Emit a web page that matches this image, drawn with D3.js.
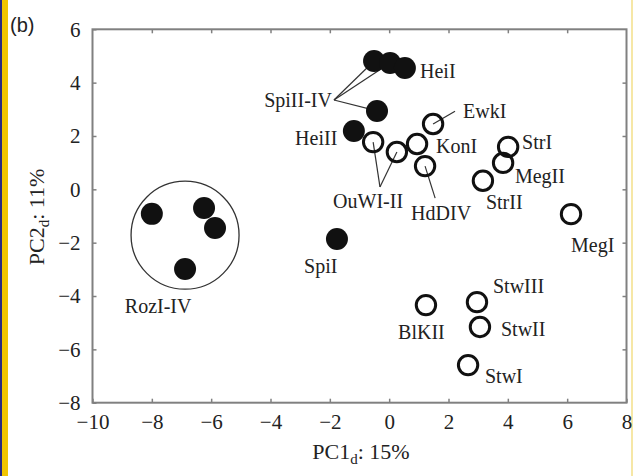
<!DOCTYPE html>
<html>
<head>
<meta charset="utf-8">
<script src="https://cdn.jsdelivr.net/npm/d3@7"></script>
<style>
  body { margin: 0; background: #fff; }
  svg { display: block; }
  text { font-family: "Liberation Serif", "Times New Roman", serif; fill: #222; }
</style>
</head>
<body>
<div id="chart"></div>
<script>
// sites (PC1, PC2) and whether the marker is filled
var names  = ["HeiIa", "HeiIb", "HeiI", "SpiIV", "HeiII", "SpiI", "Roz1", "Roz2", "Roz3", "Roz4",
              "OuWI", "OuWII", "KonI", "EwkI", "HdDIV", "StrI", "MegII", "StrII", "MegI",
              "BlKII", "StwIII", "StwII", "StwI"];
var pc1    = [-0.51, 0.03, 0.53, -0.41, -1.19, -1.76, -8.0, -6.24, -5.87, -6.88,
              -0.54, 0.26, 0.94, 1.48, 1.21, 4.01, 3.84, 3.16, 6.13,
              1.24, 2.96, 3.06, 2.66];
var pc2    = [4.81, 4.74, 4.55, 2.94, 2.19, -1.86, -0.92, -0.70, -1.45, -2.99,
              1.77, 1.40, 1.70, 2.45, 0.87, 1.59, 0.99, 0.32, -0.93,
              -4.34, -4.23, -5.16, -6.59];
var filled = [1, 1, 1, 1, 1, 1, 1, 1, 1, 1,
              0, 0, 0, 0, 0, 0, 0, 0, 0,
              0, 0, 0, 0];

var xTicks = [-10, -8, -6, -4, -2, 0, 2, 4, 6, 8];
var yTicks = [-8, -6, -4, -2, 0, 2, 4, 6];

// label text, anchor (data units), text-anchor, leader targets
var labels = [
  {t: "HeiI",     x: 1.04,  y: 4.17,  a: "start"},
  {t: "SpiII-IV", x: -1.93, y: 3.08,  a: "end",   lx: -1.86, ly: 3.35, to: ["HeiIa", "HeiIb", "SpiIV"]},
  {t: "HeiII",    x: -3.17, y: 1.66,  a: "start"},
  {t: "EwkI",     x: 2.49,  y: 2.67,  a: "start", lx: 2.22,  ly: 2.93, to: ["EwkI"]},
  {t: "KonI",     x: 1.58,  y: 1.36,  a: "start"},
  {t: "OuWI-II",  x: -1.89, y: -0.70, a: "start", lx: -0.31, ly: 0.09, to: ["OuWI", "OuWII"]},
  {t: "HdDIV",    x: 0.74,  y: -1.15, a: "start", lx: 1.55,  ly: -0.33, to: ["HdDIV"]},
  {t: "StrII",    x: 3.26,  y: -0.74, a: "start"},
  {t: "StrI",     x: 4.48,  y: 1.51,  a: "start"},
  {t: "MegII",    x: 4.24,  y: 0.24,  a: "start"},
  {t: "MegI",     x: 6.13,  y: -2.35, a: "start"},
  {t: "SpiI",     x: -2.87, y: -3.14, a: "start"},
  {t: "RozI-IV",  x: -8.91, y: -4.64, a: "start"},
  {t: "BlKII",    x: 0.30,  y: -5.61, a: "start"},
  {t: "StwIII",   x: 3.50,  y: -3.89, a: "start"},
  {t: "StwII",    x: 3.77,  y: -5.50, a: "start"},
  {t: "StwI",     x: 3.23,  y: -7.26, a: "start"}
];
// ring round the RozI-IV group
var ring = {x: -6.88, y: -1.72, r: 1.82};

var W = 635, H = 476;
var plot = {left: 92.5, right: 626.5, top: 29.3, bottom: 402.7};

var svg = d3.select("#chart").append("svg")
  .attr("width", W).attr("height", H);

// page edge decorations
svg.append("rect").attr("x", 0).attr("y", 0).attr("width", 2).attr("height", H).attr("fill", "#2a2a80");
svg.append("rect").attr("x", 2).attr("y", 0).attr("width", 6).attr("height", H).attr("fill", "#f2c500");
svg.append("rect").attr("x", 631).attr("y", 0).attr("width", 2).attr("height", H).attr("fill", "#f6e7a6");

svg.append("text")
  .attr("x", 10).attr("y", 32)
  .style("font-family", "'Liberation Sans', Arial, sans-serif")
  .style("font-size", "20px")
  .text("(b)");

var x = d3.scaleLinear().domain([-10, 8]).range([plot.left, plot.right]);
var y = d3.scaleLinear().domain([-8, 6]).range([plot.bottom, plot.top]);

var axisColor = "#808080";

function styleAxis(g, showText) {
  g.select(".domain").remove();
  g.selectAll(".tick line").attr("stroke", axisColor).attr("stroke-width", 1.5);
  if (!showText) g.selectAll(".tick text").remove();
  g.selectAll(".tick text").style("font-size", "21px").attr("fill", "#222");
}

svg.append("g")
  .attr("transform", "translate(0," + plot.bottom + ")")
  .call(d3.axisBottom(x).tickValues(xTicks).tickSize(-4).tickPadding(11).tickFormat(d3.format("")))
  .call(g => styleAxis(g, true))
  .selectAll(".tick text").attr("y", 11);

svg.append("g")
  .attr("transform", "translate(0," + plot.top + ")")
  .call(d3.axisTop(x).tickValues(xTicks.slice(1, -1)).tickSize(-4))
  .call(g => styleAxis(g, false));

svg.append("g")
  .attr("transform", "translate(" + plot.left + ",0)")
  .call(d3.axisLeft(y).tickValues(yTicks).tickSize(-4).tickPadding(12).tickFormat(d3.format("")))
  .call(g => styleAxis(g, true));

svg.append("g")
  .attr("transform", "translate(" + plot.right + ",0)")
  .call(d3.axisRight(y).tickValues(yTicks.slice(1, -1)).tickSize(-4))
  .call(g => styleAxis(g, false));

svg.append("rect")
  .attr("x", plot.left).attr("y", plot.top)
  .attr("width", plot.right - plot.left).attr("height", plot.bottom - plot.top)
  .attr("fill", "none").attr("stroke", axisColor).attr("stroke-width", 2);

// axis titles
svg.append("text")
  .attr("x", 361).attr("y", 459)
  .attr("text-anchor", "middle")
  .style("font-size", "22px")
  .call(t => {
    t.append("tspan").text("PC1");
    t.append("tspan").attr("dy", 5).style("font-size", "15px").text("d");
    t.append("tspan").attr("dy", -5).text(": 15%");
  });

svg.append("text")
  .attr("transform", "translate(44,217) rotate(-90)")
  .attr("text-anchor", "middle")
  .style("font-size", "22px")
  .call(t => {
    t.append("tspan").text("PC2");
    t.append("tspan").attr("dy", 5).style("font-size", "15px").text("d");
    t.append("tspan").attr("dy", -5).text(": 11%");
  });

var pts = names.map((n, i) => ({name: n, x: pc1[i], y: pc2[i], filled: filled[i]}));
var byName = {};
pts.forEach(p => byName[p.name] = p);

var leaders = [];
labels.forEach(l => {
  if (l.to) l.to.forEach(n => leaders.push({x1: l.lx, y1: l.ly, p: byName[n]}));
});

function drawLeaders(data) {
  svg.append("g").selectAll("line")
    .data(data)
    .enter().append("line")
    .attr("x1", d => x(d.x1)).attr("y1", d => y(d.y1))
    .attr("x2", d => x(d.p.x)).attr("y2", d => y(d.p.y))
    .attr("stroke", "#333").attr("stroke-width", 1.2);
}

// ring
svg.append("circle")
  .attr("cx", x(ring.x)).attr("cy", y(ring.y))
  .attr("r", x(ring.x + ring.r) - x(ring.x))
  .attr("fill", "none").attr("stroke", "#333").attr("stroke-width", 1.3);

// leaders to filled points go underneath them
drawLeaders(leaders.filter(d => d.p.filled));

svg.append("g").selectAll("circle")
  .data(pts.filter(p => p.filled))
  .enter().append("circle")
  .attr("cx", d => x(d.x)).attr("cy", d => y(d.y))
  .attr("r", 11)
  .attr("fill", "#111");

drawLeaders(leaders.filter(d => !d.p.filled));

// open points
svg.append("g").selectAll("circle")
  .data(pts.filter(p => !p.filled))
  .enter().append("circle")
  .attr("cx", d => x(d.x)).attr("cy", d => y(d.y))
  .attr("r", 9.7)
  .attr("fill", "none")
  .attr("stroke", "#111").attr("stroke-width", 3);

// point labels
svg.append("g").selectAll("text")
  .data(labels)
  .enter().append("text")
  .attr("x", d => x(d.x)).attr("y", d => y(d.y))
  .attr("text-anchor", d => d.a)
  .style("font-size", "20px")
  .text(d => d.t);
</script>
</body>
</html>
